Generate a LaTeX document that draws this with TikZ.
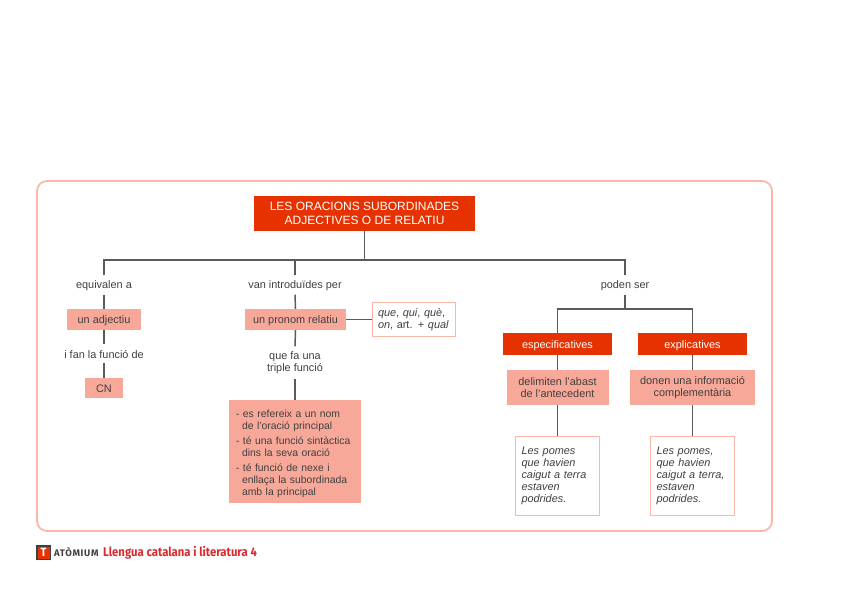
\documentclass[tikz,border=0pt]{standalone}
\usepackage{fontspec}
\setmainfont{Liberation Sans}
\newfontfamily\brandfont[FakeStretch=0.9]{Fira Sans}
\newfontfamily\logofont[LetterSpace=7]{Fira Sans}
\definecolor{titlered}{HTML}{E63200}
\definecolor{softred}{HTML}{F7A898}
\definecolor{framered}{HTML}{FBB8A8}
\definecolor{linegray}{HTML}{5A5A5A}
\definecolor{textgray}{HTML}{404040}
\definecolor{brandred}{HTML}{DC2A2E}
\tikzset{
  basetext/.style={font=\fontsize{10.9}{12}\selectfont,text=textgray,align=center,inner sep=0pt},
  lower/.style={execute at begin node={\rule{0pt}{#1}}},
  conn/.style={draw=linegray,line width=1.5pt},
  label/.style={basetext,lower=10pt,minimum height=19pt},
  titlebox/.style={basetext,lower=11pt,fill=titlered,text=white,minimum width=#1,minimum height=22pt},
  softbox/.style={basetext,lower=10pt,fill=softred,minimum width=#1},
  framebox/.style={basetext,fill=white,draw=framered,line width=1.8pt,minimum width=#1}
}
\begin{document}
\begin{tikzpicture}[x=1pt,y=-1pt]
\useasboundingbox (0,0) rectangle (848,599);
\draw[framered,line width=1.8pt,rounded corners=10pt] (37,181) rectangle (772,531);

% top level
\node[titlebox=221pt,minimum height=35pt,font=\fontsize{12}{13.5}\selectfont] (title) at (364.5,213.5) {LES ORACIONS SUBORDINADES\\ADJECTIVES O DE RELATIU};
\coordinate (bus) at (364.5,260);
\node[label] (equiv) at (104,285) {equivalen a};
\node[label] (intro) at (295,285) {van introduïdes per};
\node[label] (poden) at (625,285) {poden ser};

% left branch
\node[softbox=74pt,minimum height=21pt] (adj) at (104,319.5) {un adjectiu};
\node[label] (fan) at (104,353.5) {i fan la funció de};
\node[softbox=38pt,minimum height=20pt] (cn) at (104,388) {CN};

% middle branch
\node[softbox=101pt,minimum height=21pt] (pronom) at (295.5,319.5) {un pronom relatiu};
\node[framebox=83pt,minimum height=34pt,text width=72pt,align=left] (rel) at (414,319.5) {\textit{que}, \textit{qui}, \textit{què},\\\textit{on}, art. + \textit{qual}};
\node[label,lower=12pt,minimum height=32pt] (triple) at (295,362.5) {que fa una\\triple funció};
\node[softbox=132pt,lower=12pt,minimum height=103pt,text width=118pt,align=left,font=\fontsize{10.4}{12}\selectfont] (usos) at (295,451.5) {- es refereix a un nom\\\hspace*{6pt}de l'oració principal\\[3pt]- té una funció sintàctica\\\hspace*{6pt}dins la seva oració\\[3pt]- té funció de nexe i\\\hspace*{6pt}enllaça la subordinada\\\hspace*{6pt}amb la principal};

% right branch
\coordinate (fork) at (625,309);
\node[titlebox=109pt] (espec) at (557.5,344) {especificatives};
\node[titlebox=109pt] (expl) at (692.5,344) {explicatives};
\node[softbox=102pt,lower=12pt,minimum height=35pt] (delim) at (557.5,387.5) {delimiten l'abast\\de l'antecedent};
\node[softbox=125pt,lower=12pt,minimum height=35pt] (donen) at (692.5,387.5) {donen una informació\\complementària};
\node[framebox=84pt,minimum height=79pt,text width=72pt,align=left] (exa) at (557.5,476) {\itshape Les pomes\\\itshape que havien\\\itshape caigut a terra\\\itshape estaven\\\itshape podrides.};
\node[framebox=84pt,minimum height=79pt,text width=72pt,align=left] (exb) at (692.5,476) {\itshape Les pomes,\\\itshape que havien\\\itshape caigut a terra,\\\itshape estaven\\\itshape podrides.};

% connectors
\draw[conn] (title.south) -- (bus);
\draw[conn] (equiv.north) -- (equiv.north |- bus) -- (poden.north |- bus) -- (poden.north);
\draw[conn] (intro.north) -- (intro.north |- bus);
\draw[conn] (equiv.south) -- (adj.north);
\draw[conn] (adj.south) -- (fan.north);
\draw[conn] (fan.south) -- (cn.north);
\draw[conn] (intro.south) -- (pronom.north);
\draw[conn] (pronom.east) -- (rel.west);
\draw[conn] (pronom.south) -- (triple.north);
\draw[conn] (triple.south) -- (usos.north);
\draw[conn] (poden.south) -- (fork);
\draw[conn] (espec.north) -- (espec.north |- fork) -- (expl.north |- fork) -- (expl.north);
\draw[conn] (espec.south) -- (delim.north);
\draw[conn] (expl.south) -- (donen.north);
\draw[conn] (delim.south) -- (exa.north);
\draw[conn] (donen.south) -- (exb.north);

% footer
\fill[textgray] (36,545) rectangle (51,560);
\fill[titlered] (37.5,546.5) rectangle (49.5,558.5);
\node[inner sep=0pt,text=white,font=\brandfont\bfseries\fontsize{12}{12}\selectfont] (logo) at (43.5,552.5) {T};
\node[inner sep=0pt,anchor=west,text=textgray,font=\logofont\bfseries\fontsize{9.5}{11}\selectfont] (brand) at (54,552.5) {ATÒMIUM};
\node[inner sep=0pt,anchor=west,text=brandred,font=\brandfont\bfseries\fontsize{12.6}{14}\selectfont] (book) at (103,552.5) {Llengua catalana i literatura 4};
\end{tikzpicture}
\end{document}
